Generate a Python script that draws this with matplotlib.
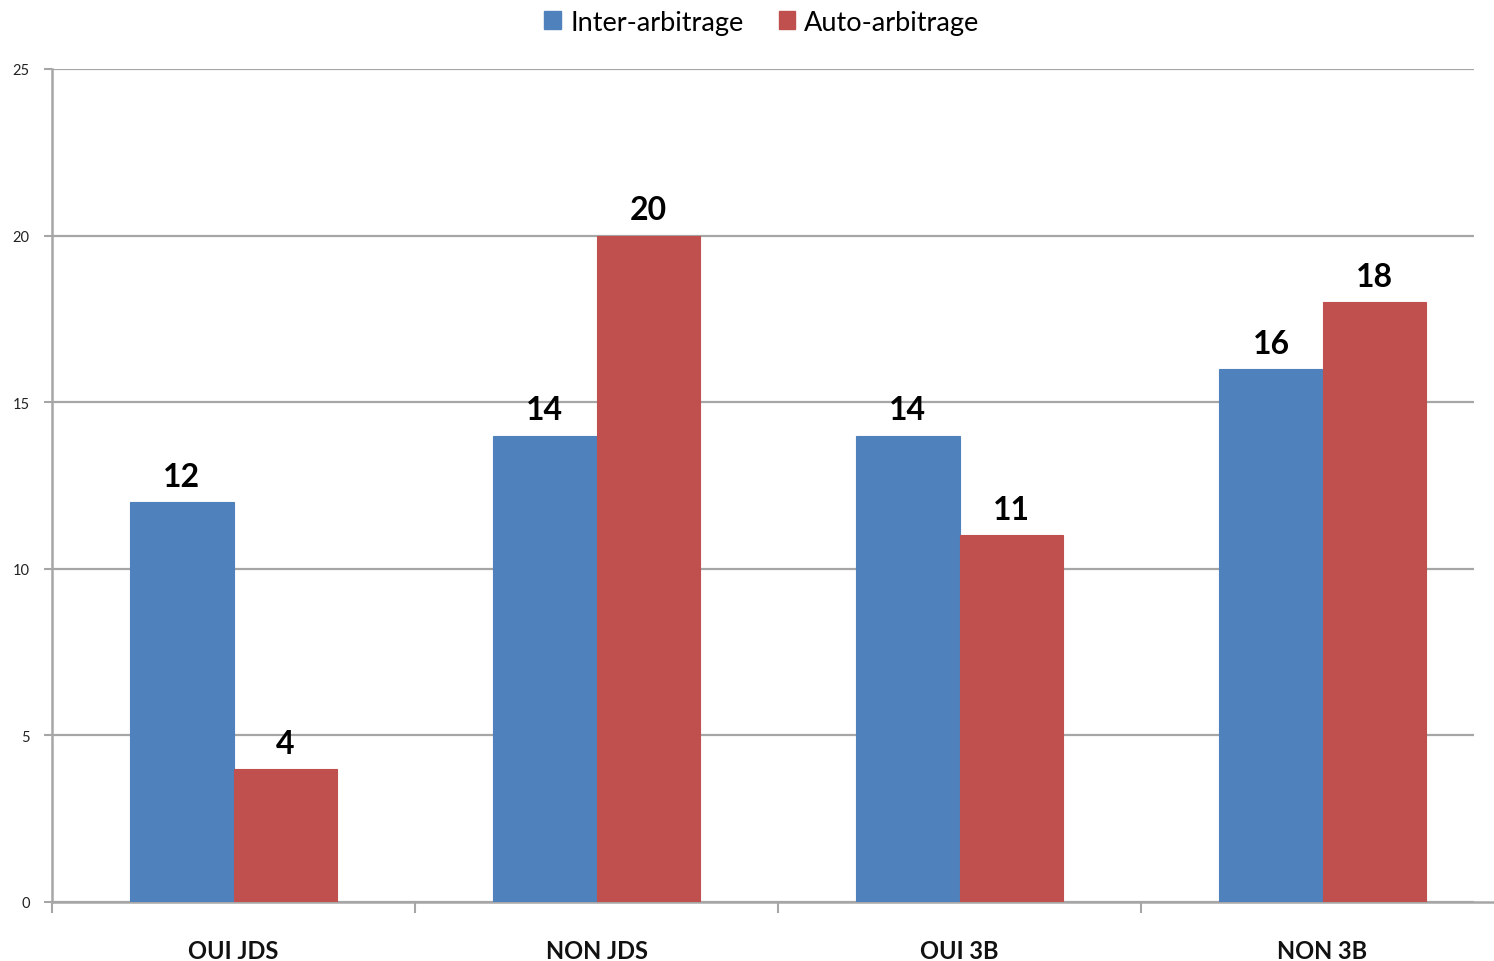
import matplotlib
matplotlib.use("Agg")
import matplotlib.pyplot as plt
import numpy as np
from matplotlib.patches import Patch

categories = ["OUI JDS", "NON JDS", "OUI 3B", "NON 3B"]
inter = [12, 14, 14, 16]
auto = [4, 20, 11, 18]
series_names = ["Inter-arbitrage", "Auto-arbitrage"]
yticks = [0, 5, 10, 15, 20, 25]

blue = "#4F81BD"
red = "#C0504D"
grid_c = "#A6A6A6"

plt.rcParams['font.family'] = ['Lato', 'DejaVu Sans']

W, H = 1494, 962
fig = plt.figure(figsize=(W/100, H/100), dpi=100)
ax = fig.add_axes([52/W, 59/H, (1474-52)/W, 833/H])

x = np.arange(len(categories))
bw = 0.284
b1 = ax.bar(x - bw/2, inter, bw, color=blue, zorder=3, label=series_names[0],
            linewidth=0.8, edgecolor=blue)
b2 = ax.bar(x + bw/2, auto, bw, color=red, zorder=3, label=series_names[1],
            linewidth=0.8, edgecolor=red)

for bars, vals in ((b1, inter), (b2, auto)):
    for r, v in zip(bars, vals):
        ax.annotate(str(v), (r.get_x() + r.get_width()/2, v), xytext=(0, 8),
                    textcoords="offset points", ha="center", va="bottom",
                    fontsize=23, fontweight="bold", color="black", zorder=4)

ax.set_ylim(0, 25)
ax.set_xlim(-0.5, -0.5 + (1474-52)/363)
ax.set_yticks(yticks)
ax.set_yticklabels([str(t) for t in yticks], fontsize=10.5, color="#222222")
ax.yaxis.grid(True, color=grid_c, linewidth=1.6, zorder=0)
ax.set_axisbelow(True)

ax.set_xticks(np.arange(len(categories)) - 0.5)
ax.set_xticklabels([])
ax.set_xticks(x, minor=True)
ax.set_xticklabels(categories, minor=True, fontsize=17, fontweight="bold", color="#111111")
ax.tick_params(axis="x", which="minor", length=0, pad=27)
ax.tick_params(axis="x", which="major", length=8, width=1.5, color=grid_c, direction="out")
ax.tick_params(axis="y", length=6, width=1.5, color=grid_c, direction="out", pad=10)

for s in ("top", "right"):
    ax.spines[s].set_visible(False)
for s in ("left", "bottom"):
    ax.spines[s].set_color(grid_c)
    ax.spines[s].set_linewidth(1.8)
ax.spines["bottom"].set_bounds(-0.5, -0.5 + (1494-52)/363)

handles = [Patch(color=blue), Patch(color=red)]
fig.legend(handles, series_names, loc="center", bbox_to_anchor=(762/W, 1 - 23/H),
           ncol=2, frameon=False, fontsize=19.5, handlelength=0.6, handleheight=0.6,
           handletextpad=0.35, columnspacing=1.3)

fig.savefig("out.png", dpi=100)
